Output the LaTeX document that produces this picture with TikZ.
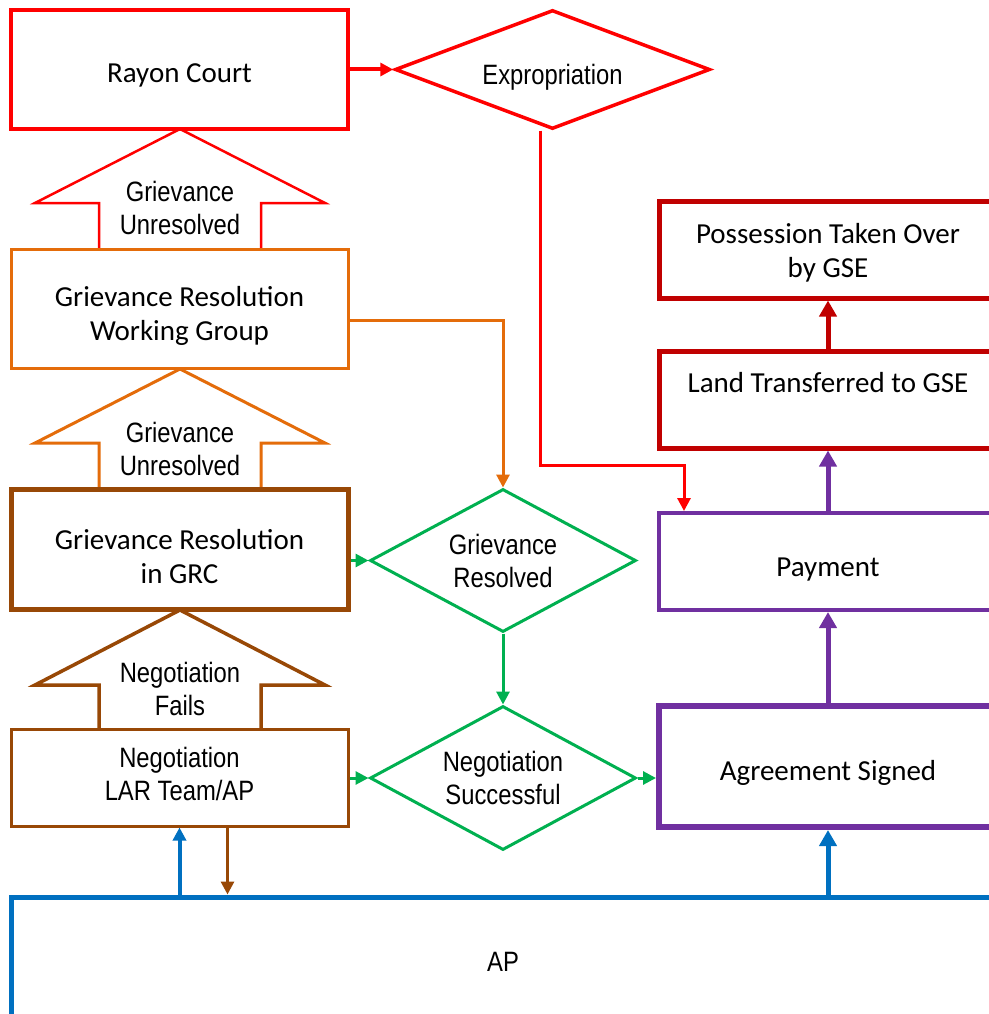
\documentclass[tikz,border=0pt]{standalone}
\usepackage{fontspec}
\setmainfont{Carlito}
\newfontfamily\narrowfont[FakeStretch=0.85]{Liberation Sans}
\usetikzlibrary{shapes.geometric, arrows.meta}

\definecolor{exred}{RGB}{255,0,0}
\definecolor{wgorange}{RGB}{228,108,10}
\definecolor{grcbrown}{RGB}{152,72,6}
\definecolor{okgreen}{RGB}{0,176,80}
\definecolor{paypurple}{RGB}{112,48,160}
\definecolor{gsered}{RGB}{192,0,0}
\definecolor{apblue}{RGB}{0,112,192}

\newcommand{\dropto}[1]{\rule{0pt}{#1}}

\tikzset{
    stagebox/.style={rectangle, fill=white, text=black, inner sep=0pt, align=center,
        minimum width=337pt, font=\fontsize{29}{34}\selectfont},
    narrowbox/.style={stagebox, font=\narrowfont\fontsize{28}{33}\selectfont},
    decision/.style={diamond, fill=white, text=black, inner sep=0pt, align=center,
        line width=3pt, line join=miter, font=\narrowfont\fontsize{28}{33}\selectfont},
    lifted/.style={execute at end node={\rule[-#1]{0pt}{1pt}}},
    upblock/.style={line width=3pt, fill=white, line join=miter},
    blocktext/.style={align=center, text=black, font=\narrowfont\fontsize{28}{33}\selectfont},
    flowarrow/.style={-{Triangle[length=13pt, width=13pt]}},
    bigarrow/.style={-{Triangle[length=16pt, width=17pt]}, line width=5pt},
}

\begin{document}
\begin{tikzpicture}[x=1pt, y=-1pt]

        \useasboundingbox (0, 0) rectangle (988, 1014);

        \draw[upblock, draw=exred, line width=2.5pt] (99, 248) -- (99, 203) -- (35, 203) -- (180, 129) -- (325, 203) -- (261, 203) -- (261, 248);
        \node[blocktext] (unres1) at (180, 208){Grievance\\Unresolved};

        \draw[upblock, draw=wgorange] (99, 488) -- (99, 443) -- (35, 443) -- (180, 369) -- (325, 443) -- (261, 443) -- (261, 488);
        \node[blocktext] (unres2) at (180, 449){Grievance\\Unresolved};

        \draw[upblock, draw=grcbrown, line width=3.5pt] (99, 729) -- (99, 685) -- (35, 685) -- (180, 610) -- (325, 685) -- (261, 685) -- (261, 729);
        \node[blocktext] (fails) at (180, 689){Negotiation\\Fails};

        \node[stagebox, draw=exred, line width=4pt, minimum height=119pt] (rc) at (179.5, 69.5){\dropto{30pt}Rayon Court};
        \node[decision, draw=exred, line width=3.5pt, minimum width=315pt, minimum height=119pt, aspect=2.65] (exp) at (552.5, 69.5){\dropto{36pt}Expropriation};

        \node[stagebox, draw=wgorange, line width=3pt, minimum height=119pt] (wg) at (179.5, 308.5){\dropto{35pt}Grievance Resolution\\Working Group};
        \node[stagebox, draw=grcbrown, line width=5pt, minimum height=120pt] (grc) at (179.5, 549){\dropto{35pt}Grievance Resolution\\in GRC};
        \node[narrowbox, lifted=8pt, draw=grcbrown, line width=3pt, minimum height=97pt] (neg) at (179.5, 777.5){Negotiation\\LAR Team/AP};

        \node[decision, draw=okgreen, minimum width=266pt, minimum height=143pt, aspect=1.86] (gr) at (503, 560.5){Grievance\\Resolved};
        \node[decision, draw=okgreen, minimum width=266pt, minimum height=144pt, aspect=1.86] (ns) at (503, 778){Negotiation\\Successful};

        \node[stagebox, draw=gsered, line width=5pt, minimum width=338pt, minimum height=97pt] (poss) at (828, 249.5){\dropto{26pt}Possession Taken Over\\by GSE};
        \node[stagebox, draw=gsered, line width=5pt, minimum width=338pt, minimum height=97pt] (land) at (828, 399.5){Land Transferred to GSE\\ \mbox{}};
        \node[stagebox, draw=paypurple, line width=4pt, minimum width=338pt, minimum height=97pt] (pay) at (828, 561.5){\dropto{34pt}Payment};
        \node[stagebox, draw=paypurple, line width=6pt, minimum width=338pt, minimum height=121pt] (agr) at (828, 766.5){\dropto{33pt}Agreement Signed};

        \node[narrowbox, draw=apblue, line width=5pt, minimum width=984pt, minimum height=130pt] (ap) at (503, 962){AP};

        \draw[flowarrow, exred, line width=4pt](rc.east) to (exp.west);
        \coordinate (expturn) at (684, 465);
        \draw[flowarrow, exred, line width=3pt]([xshift=-12pt]exp.south) |- (expturn) -- (expturn |- pay.north);

        \draw[flowarrow, wgorange, line width=3pt]([yshift=-12pt]wg.east) -| (gr.north);

        \draw[flowarrow, okgreen, line width=3pt](grc.east |- gr.west) to (gr.west);
        \draw[flowarrow, okgreen, line width=3pt](gr.south) to (ns.north);
        \draw[flowarrow, okgreen, line width=3pt](neg.east |- ns.west) to (ns.west);
        \draw[flowarrow, okgreen, line width=3pt](ns.east) to (agr.west |- ns.east);

        \draw[bigarrow, paypurple](agr.north) to (pay.south);
        \draw[bigarrow, paypurple](pay.north) to (land.south);
        \draw[bigarrow, gsered](land.north) to (poss.south);

        \draw[flowarrow, apblue, line width=4pt](ap.north -| neg.south) to (neg.south);
        \coordinate (negdown) at ([xshift=48pt]neg.south);
        \draw[flowarrow, grcbrown, line width=3pt](negdown) to (negdown |- ap.north);
        \draw[bigarrow, apblue](ap.north -| agr.south) to (agr.south);

\end{tikzpicture}
\end{document}
